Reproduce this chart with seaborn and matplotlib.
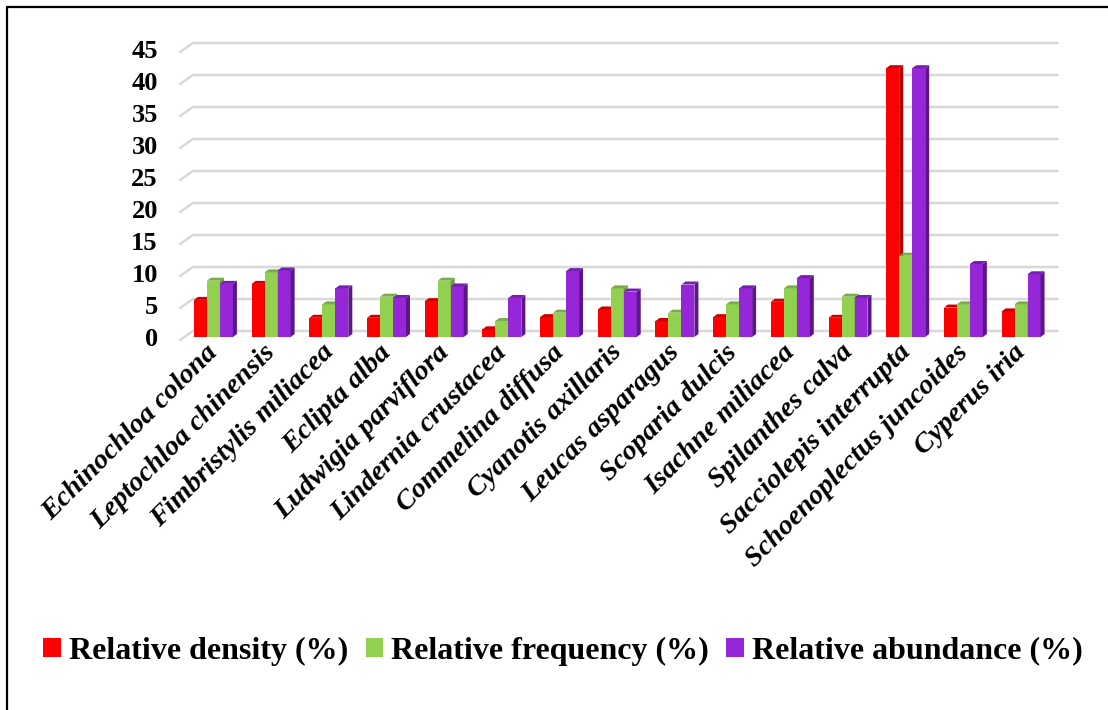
import numpy as np
import pandas as pd
import matplotlib
matplotlib.use("Agg")
import matplotlib.pyplot as plt
import matplotlib.transforms as mtransforms
from matplotlib.patches import Polygon, Patch
from matplotlib.lines import Line2D
import seaborn as sns

# ---- data -------------------------------------------------------------
species = [
    "Echinochloa colona", "Leptochloa chinensis", "Fimbristylis miliacea",
    "Eclipta alba", "Ludwigia parviflora", "Lindernia crustacea",
    "Commelina diffusa", "Cyanotis axillaris", "Leucas asparagus",
    "Scoparia dulcis", "Isachne miliacea", "Spilanthes calva",
    "Sacciolepis interrupta", "Schoenoplectus juncoides", "Cyperus iria",
]
density = [5.8, 8.3, 3.0, 3.0, 5.6, 1.2, 3.1, 4.3, 2.5, 3.1, 5.5, 3.0, 42.0, 4.6, 4.0]
frequency = [8.8, 10.1, 5.1, 6.3, 8.8, 2.5, 3.8, 7.6, 3.8, 5.1, 7.6, 6.3, 12.7, 5.1, 5.1]
abundance = [8.3, 10.4, 7.6, 6.1, 7.9, 6.1, 10.3, 7.1, 8.2, 7.6, 9.2, 6.1, 42.0, 11.4, 9.8]
series_names = ["Relative density (%)", "Relative frequency (%)", "Relative abundance (%)"]
y_ticks = list(range(0, 50, 5))

colors = ["#ff0000", "#92d050", "#9527d8"]
side_colors = ["#b30000", "#6a9a3a", "#5c1688"]
top_colors = ["#cc0000", "#79ad45", "#7420ad"]

# ---- style ------------------------------------------------------------
sns.set_theme(style="white")
plt.rcParams["font.family"] = ["Liberation Serif", "DejaVu Serif"]
plt.rcParams["font.weight"] = "bold"
for key in ("text.color", "axes.labelcolor", "xtick.color", "ytick.color"):
    plt.rcParams[key] = "black"

df = pd.DataFrame({
    "species": species,
    series_names[0]: density,
    series_names[1]: frequency,
    series_names[2]: abundance,
}).melt(id_vars="species", var_name="series", value_name="value")

W, H = 1108, 710
fig = plt.figure(figsize=(W / 100, H / 100), dpi=100)
fig.patch.set_facecolor("white")
ax = fig.add_axes([180 / W, 1 - 337 / H, (1058 - 180) / W, (337 - 49) / H])

sns.barplot(data=df, x="species", y="value", hue="series", hue_order=series_names,
            palette=colors, saturation=1, width=0.675, gap=0, ax=ax,
            legend=False, errorbar=None)

ax.set_xlim(-0.58, 14.64)
ax.set_ylim(0, 45)
for s in ax.spines.values():
    s.set_visible(False)
ax.set_xlabel("")
ax.set_ylabel("")
ax.grid(False)

# ---- y axis ticks -----------------------------------------------------
ax.set_yticks(y_ticks)
ax.set_yticklabels([str(t) for t in y_ticks], fontsize=19, fontweight="bold")
ax.tick_params(axis="y", length=0, pad=16)

# ---- x axis labels ----------------------------------------------------
ax.set_xticks(range(len(species)))
ax.set_xticklabels(species, rotation=45, ha="right", rotation_mode="anchor",
                   fontsize=20.5, fontstyle="italic", fontweight="bold")
ax.tick_params(axis="x", length=0, pad=2)
shift = mtransforms.ScaledTranslation(-8 / 100, 0, fig.dpi_scale_trans)
for lab in ax.get_xticklabels():
    lab.set_transform(lab.get_transform() + shift)

ident = mtransforms.IdentityTransform()
td = ax.transData

# ---- perspective gridlines (back wall with slanted floor stub) -------
x_left = td.transform((ax.get_xlim()[0], 0))[0]
x_right = td.transform((ax.get_xlim()[1], 0))[0]
depth_x, depth_y = 13, 9
for v in y_ticks:
    yv = td.transform((0, v))[1]
    ax.add_line(Line2D([x_left, x_left + depth_x, x_right],
                       [yv - 3, yv - 3 + depth_y, yv - 3 + depth_y],
                       transform=ident, color="#d9d9d9", lw=1.8,
                       zorder=0.5, clip_on=False))

# ---- pseudo-3D bars: darker side and top faces ------------------------
dx, dy = 4, 3
for k, cont in enumerate(ax.containers):
    for rect in cont:
        rect.set_zorder(2 + k)
        rect.set_edgecolor("none")
        x0, w, h = rect.get_x(), rect.get_width(), rect.get_height()
        X0, Y0 = td.transform((x0, 0))
        X1, Y1 = td.transform((x0 + w, h))
        side = Polygon([(X1, Y0), (X1 + dx, Y0 + dy), (X1 + dx, Y1 + dy), (X1, Y1)],
                       closed=True, transform=ident, facecolor=side_colors[k],
                       edgecolor="none", zorder=2 + k, clip_on=False)
        top = Polygon([(X0, Y1), (X0 + dx, Y1 + dy), (X1 + dx, Y1 + dy), (X1, Y1)],
                      closed=True, transform=ident, facecolor=top_colors[k],
                      edgecolor="none", zorder=2 + k, clip_on=False)
        ax.add_patch(side)
        ax.add_patch(top)

# ---- legend -----------------------------------------------------------
handles = [Patch(facecolor=c, edgecolor="none", label=n) for c, n in zip(colors, series_names)]
fig.legend(handles=handles, loc="center", bbox_to_anchor=(563 / W, 1 - 651 / H),
           ncol=3, frameon=False, prop={"size": 23, "weight": "bold"},
           handlelength=0.55, handleheight=0.55, handletextpad=0.25,
           columnspacing=0.55, borderaxespad=0)

# ---- outer frame (left and top edges) ---------------------------------
fig.add_artist(Line2D([7 / W, 7 / W], [0, 1 - 7 / H], transform=fig.transFigure,
                      color="black", lw=1.6))
fig.add_artist(Line2D([7 / W, 1], [1 - 7 / H, 1 - 7 / H], transform=fig.transFigure,
                      color="black", lw=1.6))

fig.savefig("out.png", dpi=100, facecolor="white")
